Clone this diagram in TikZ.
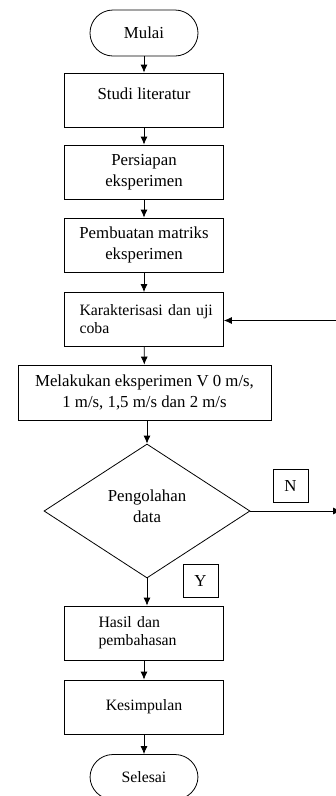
\documentclass[tikz,border=0pt]{standalone}
\usepackage{fontspec}
\setmainfont{Liberation Serif}
\usetikzlibrary{shapes.geometric,arrows.meta}
\tikzset{
  base/.style={draw, line width=0.8pt, font=\fontsize{16.8}{20.5}\selectfont},
  box/.style={base, rectangle, minimum width=159pt, minimum height=54pt, inner sep=0pt, align=center},
  term/.style={base, rounded corners=23pt, minimum width=108pt, minimum height=46pt, inner sep=0pt},
  dec/.style={base, diamond, minimum width=206pt, minimum height=134pt, inner sep=0pt, align=center},
  tag/.style={base, minimum width=35pt, minimum height=33pt, inner sep=0pt},
  small/.style={font=\fontsize{15.8}{18}\selectfont},
  arr/.style={line width=0.8pt, -{Latex[length=8pt,width=7pt]}}
}
\begin{document}
\begin{tikzpicture}[x=1pt,y=-1pt]
        \useasboundingbox (0,0) rectangle (336,796);
        %% Flow steps
        \node[term] (mulai) at (144,33) {Mulai};
        \node[box, text depth=12pt] (studi) at (144,100) {Studi literatur};
        \node[box] (persiapan) at (144,172) {Persiapan\\eksperimen};
        \node[box] (pembuatan) at (144,245) {Pembuatan matriks\\eksperimen};
        \node[box, small, align=left, text width=129pt, inner xsep=15pt] (karakter) at (144,319.5) {\mbox{Karakterisasi dan uji}\\coba};
        \node[box, minimum width=253pt, minimum height=55pt] (melakukan) at (144.5,392.5) {Melakukan eksperimen V 0 m/s,\\1 m/s, 1,5 m/s dan 2 m/s};
        \node[dec, text depth=10pt] (olah) at (147,511) {Pengolahan\\data};
        \node[tag] (tagN) at (290.5,485.5) {N};
        \node[tag] (tagY) at (200.5,580.5) {Y};
        \node[box, small, align=left, text width=91pt, inner xsep=34pt] (hasil) at (144,633) {Hasil dan\\pembahasan};
        \node[box, small] (simpul) at (144,707) {Kesimpulan};
        \node[term, small, minimum height=45pt] (selesai) at (144,777) {Selesai};
        %% Loose ends at the right edge
        \coordinate (balik) at (336,320.5);
        \coordinate (keluar) at (341,511);
        %% Connectors
        \draw[arr] (mulai) -- (studi);
        \draw[arr] (studi) -- (persiapan);
        \draw[arr] (persiapan) -- (pembuatan);
        \draw[arr] (pembuatan) -- (karakter);
        \draw[arr] (karakter) -- (melakukan);
        \draw[arr] (melakukan.south -| olah.north) -- (olah.north);
        \draw[arr] (olah.south) -- (olah.south |- hasil.north);
        \draw[arr] (hasil) -- (simpul);
        \draw[arr] (simpul) -- (selesai);
        \draw[arr] (olah.east) -- (keluar);
        \draw[arr] (balik) -- (balik -| karakter.east);
    \end{tikzpicture}
\end{document}
